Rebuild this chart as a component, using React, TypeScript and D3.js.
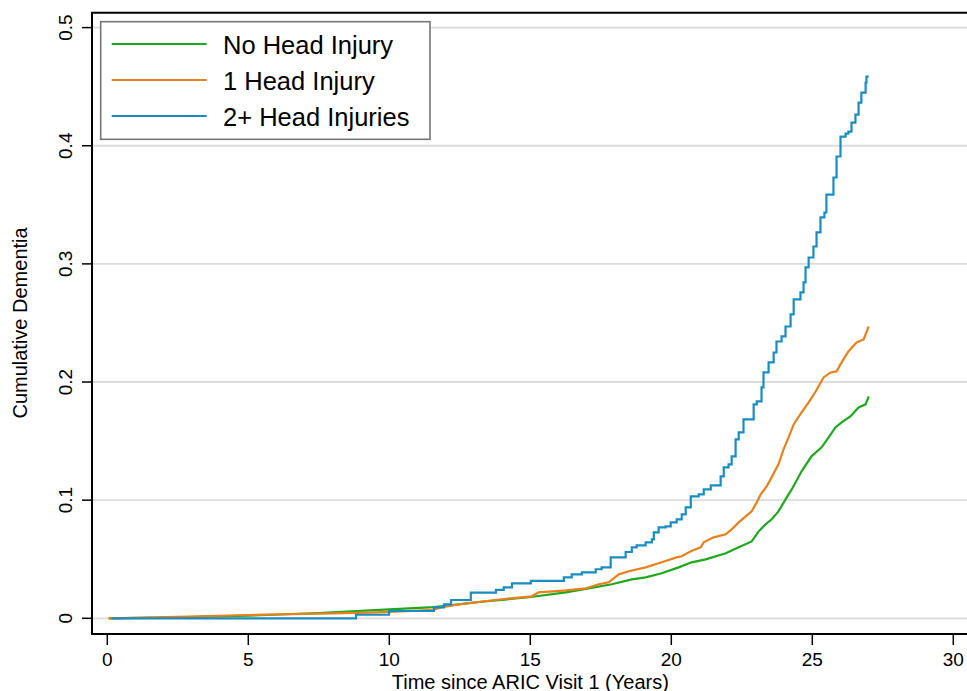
import React from "react";
import * as d3 from "d3";

const W = 967;
const H = 691;

const xTicks = [0, 5, 10, 15, 20, 25, 30];
const yTicks = [0, 0.1, 0.2, 0.3, 0.4, 0.5];
const yTickLabels = ["0", "0.1", "0.2", "0.3", "0.4", "0.5"];

const seriesNames = ["No Head Injury", "1 Head Injury", "2+ Head Injuries"];
const seriesColors = ["#1ea81e", "#e8811c", "#1b8cc1"];

// No Head Injury (t years, cumulative)
const noInjT = [0.05, 2.5, 5, 7.5, 10, 11.58, 13.18, 14.95, 16.26, 17.07, 17.89, 18.6, 19.09, 19.66, 20.26, 20.72, 21.22, 21.93, 22.39, 22.85, 23.1, 23.34, 23.56, 23.8, 24.05, 24.27, 24.62, 24.97, 25.33, 25.58, 25.82, 26.04, 26.35, 26.64, 26.89, 27.0];
const noInjV = [0, 0.0008, 0.0022, 0.0045, 0.0075, 0.0095, 0.0138, 0.0178, 0.022, 0.0254, 0.0288, 0.033, 0.0347, 0.0381, 0.0431, 0.0474, 0.0499, 0.055, 0.0601, 0.0651, 0.0736, 0.0795, 0.0838, 0.0905, 0.1007, 0.1091, 0.1244, 0.1371, 0.1447, 0.1531, 0.1616, 0.1658, 0.1709, 0.1785, 0.1811, 0.1878];

// 1 Head Injury
const oneInjT = [0.05, 2.5, 5, 6.5, 8, 9.5, 10, 11.58, 11.83, 12.47, 13.07, 13.99, 15.05, 15.3, 16.26, 16.97, 17.43, 17.78, 18.14, 18.49, 19.09, 19.66, 20.19, 20.37, 20.69, 21.04, 21.15, 21.5, 21.93, 22.14, 22.39, 22.64, 22.85, 23.03, 23.17, 23.38, 23.52, 23.8, 23.98, 24.16, 24.34, 24.62, 24.87, 25.12, 25.4, 25.65, 25.86, 26.04, 26.28, 26.57, 26.82, 27.0];
const oneInjV = [0, 0.0012, 0.0028, 0.0035, 0.0042, 0.005, 0.0055, 0.0072, 0.0093, 0.0118, 0.0135, 0.0161, 0.0186, 0.022, 0.0237, 0.0254, 0.0288, 0.0305, 0.0372, 0.0398, 0.0431, 0.0474, 0.0516, 0.0525, 0.0567, 0.0601, 0.0643, 0.0685, 0.0711, 0.0753, 0.0812, 0.0863, 0.0905, 0.0981, 0.1049, 0.1117, 0.1176, 0.1303, 0.143, 0.1531, 0.1641, 0.1743, 0.1827, 0.192, 0.2039, 0.2081, 0.209, 0.2166, 0.2259, 0.2335, 0.236, 0.247];

// 2+ Head Injuries (step function)
const twoInjT = [0.15, 8.82, 9.99, 11.58, 11.94, 12.19, 12.89, 13.78, 14.06, 14.35, 15.02, 16.19, 16.47, 16.83, 17.32, 17.53, 17.85, 18.38, 18.6, 18.77, 19.09, 19.31, 19.38, 19.55, 19.8, 19.98, 20.19, 20.37, 20.51, 20.69, 20.97, 21.15, 21.4, 21.75, 21.86, 22.03, 22.14, 22.28, 22.39, 22.56, 22.92, 23.03, 23.2, 23.27, 23.45, 23.63, 23.73, 23.91, 24.05, 24.23, 24.34, 24.58, 24.69, 24.76, 24.87, 25.04, 25.15, 25.29, 25.43, 25.5, 25.75, 25.86, 26.0, 26.18, 26.28, 26.39, 26.53, 26.64, 26.74, 26.89, 26.92, 27.0];
const twoInjV = [0, 0.003, 0.0062, 0.0093, 0.0118, 0.0155, 0.0217, 0.024, 0.0262, 0.0296, 0.0316, 0.0347, 0.0372, 0.0389, 0.0415, 0.0431, 0.0516, 0.0561, 0.0601, 0.0618, 0.0643, 0.0668, 0.0728, 0.077, 0.0778, 0.0812, 0.0838, 0.088, 0.0939, 0.1032, 0.1049, 0.1091, 0.1125, 0.1201, 0.1277, 0.1303, 0.137, 0.1514, 0.1574, 0.1684, 0.181, 0.1836, 0.1954, 0.2081, 0.2166, 0.225, 0.2343, 0.2386, 0.247, 0.2572, 0.2699, 0.2758, 0.2843, 0.297, 0.3054, 0.3147, 0.3266, 0.3393, 0.3435, 0.3587, 0.3731, 0.3909, 0.4078, 0.4103, 0.412, 0.4196, 0.4264, 0.4365, 0.445, 0.4535, 0.4585, 0.4585];

const FONT = "'Liberation Sans', Arial, Helvetica, sans-serif";

export default function App() {
  const x = d3.scaleLinear().domain([0, 30]).range([107.3, 953.3]);
  const y = d3.scaleLinear().domain([0, 0.5]).range([618.3, 27.6]);

  const plotLeft = 92;
  const plotTop = 12.7;
  const plotBottom = 634;
  const plotRight = W + 5;

  const toPts = (ts: number[], vs: number[]) => ts.map((t, i) => [t, vs[i]] as [number, number]);
  const lineLin = d3.line<[number, number]>().x(d => x(d[0])).y(d => y(d[1])).curve(d3.curveLinear);
  const lineStep = d3.line<[number, number]>().x(d => x(d[0])).y(d => y(d[1])).curve(d3.curveStepAfter);

  const paths = [
    { d: lineLin(toPts(noInjT, noInjV)), c: seriesColors[0] },
    { d: lineLin(toPts(oneInjT, oneInjV)), c: seriesColors[1] },
    { d: lineStep(toPts(twoInjT, twoInjV)), c: seriesColors[2] },
  ];

  const legendRows = [44, 80, 116];

  return (
    <svg width={W} height={H} style={{ position: "absolute", left: 0, top: 0, background: "#fff" }} fontFamily={FONT}>
      <rect x={0} y={0} width={W} height={H} fill="#fff" />
      {/* gridlines */}
      {yTicks.map(v => (
        <line key={"g" + v} x1={plotLeft} x2={plotRight} y1={y(v)} y2={y(v)} stroke="#dcdcdc" strokeWidth={1.8} />
      ))}
      {/* curves */}
      {paths.map((p, i) => (
        <path key={i} d={p.d || ""} fill="none" stroke={p.c} strokeWidth={2.2} strokeLinejoin="miter" />
      ))}
      {/* frame */}
      <line x1={plotLeft} x2={plotLeft} y1={plotTop} y2={plotBottom} stroke="#000" strokeWidth={2} />
      <line x1={plotLeft - 1} x2={plotRight} y1={plotTop} y2={plotTop} stroke="#000" strokeWidth={2} />
      <line x1={plotLeft - 1} x2={plotRight} y1={plotBottom} y2={plotBottom} stroke="#000" strokeWidth={2} />
      {/* y ticks */}
      {yTicks.map((v, i) => (
        <g key={"yt" + v}>
          <line x1={plotLeft - 10} x2={plotLeft} y1={y(v)} y2={y(v)} stroke="#000" strokeWidth={1.5} />
          <text transform={`translate(72,${y(v)}) rotate(-90)`} textAnchor="middle" fontSize={19} fill="#000">
            {yTickLabels[i]}
          </text>
        </g>
      ))}
      {/* x ticks */}
      {xTicks.map(t => (
        <g key={"xt" + t}>
          <line x1={x(t)} x2={x(t)} y1={plotBottom} y2={plotBottom + 11} stroke="#000" strokeWidth={1.5} />
          <text x={x(t)} y={666} textAnchor="middle" fontSize={19} fill="#000">
            {t}
          </text>
        </g>
      ))}
      {/* axis titles */}
      <text x={x(15)} y={688.5} textAnchor="middle" fontSize={20} fill="#000">
        Time since ARIC Visit 1 (Years)
      </text>
      <text transform={`translate(27,${(y(0) + y(0.5)) / 2}) rotate(-90)`} textAnchor="middle" fontSize={20} fill="#000">
        Cumulative Dementia
      </text>
      {/* legend */}
      <rect x={100.7} y={21.7} width={329.3} height={117.6} fill="#fff" stroke="#777" strokeWidth={1.6} />
      {seriesNames.map((n, i) => (
        <g key={n}>
          <line x1={111.7} x2={206.7} y1={legendRows[i]} y2={legendRows[i]} stroke={seriesColors[i]} strokeWidth={2.2} />
          <text x={223} y={legendRows[i] + 9.5} fontSize={25.5} fill="#000">
            {n}
          </text>
        </g>
      ))}
    </svg>
  );
}
